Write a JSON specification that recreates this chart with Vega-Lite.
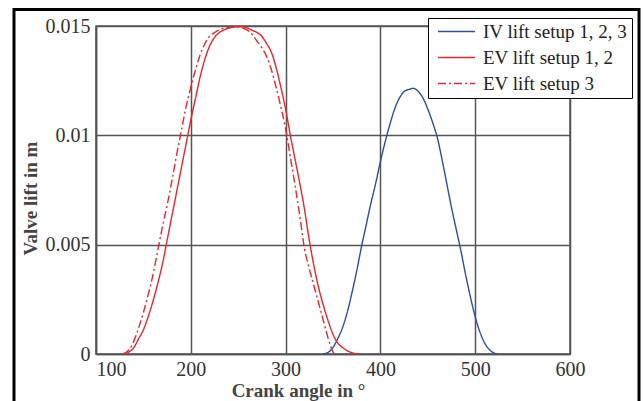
{
  "$schema": "https://vega.github.io/schema/vega-lite/v6.json",
  "width": 474,
  "height": 328,
  "autosize": {"type": "none"},
  "padding": {"left": 96, "top": 26, "right": 73, "bottom": 47},
  "background": "white",
  "config": {
    "view": {"stroke": "#555555", "strokeWidth": 1.5},
    "font": "Liberation Serif"
  },
  "datasets": {
    "frame": [{"item": "frame"}],
    "curves": [
      {"angle": 340, "lift": 0, "series": "IV lift setup 1, 2, 3"},
      {"angle": 345, "lift": 0.00008, "series": "IV lift setup 1, 2, 3"},
      {"angle": 350, "lift": 0.0003, "series": "IV lift setup 1, 2, 3"},
      {"angle": 355, "lift": 0.0007, "series": "IV lift setup 1, 2, 3"},
      {"angle": 360, "lift": 0.0012, "series": "IV lift setup 1, 2, 3"},
      {"angle": 365, "lift": 0.0019, "series": "IV lift setup 1, 2, 3"},
      {"angle": 370, "lift": 0.0028, "series": "IV lift setup 1, 2, 3"},
      {"angle": 375, "lift": 0.0038, "series": "IV lift setup 1, 2, 3"},
      {"angle": 380, "lift": 0.0049, "series": "IV lift setup 1, 2, 3"},
      {"angle": 385, "lift": 0.0059, "series": "IV lift setup 1, 2, 3"},
      {"angle": 390, "lift": 0.0069, "series": "IV lift setup 1, 2, 3"},
      {"angle": 395, "lift": 0.0078, "series": "IV lift setup 1, 2, 3"},
      {"angle": 400, "lift": 0.0088, "series": "IV lift setup 1, 2, 3"},
      {"angle": 405, "lift": 0.0097, "series": "IV lift setup 1, 2, 3"},
      {"angle": 410, "lift": 0.0105, "series": "IV lift setup 1, 2, 3"},
      {"angle": 415, "lift": 0.0112, "series": "IV lift setup 1, 2, 3"},
      {"angle": 420, "lift": 0.0117, "series": "IV lift setup 1, 2, 3"},
      {"angle": 425, "lift": 0.012, "series": "IV lift setup 1, 2, 3"},
      {"angle": 430, "lift": 0.0121, "series": "IV lift setup 1, 2, 3"},
      {"angle": 435, "lift": 0.01215, "series": "IV lift setup 1, 2, 3"},
      {"angle": 440, "lift": 0.012, "series": "IV lift setup 1, 2, 3"},
      {"angle": 445, "lift": 0.0117, "series": "IV lift setup 1, 2, 3"},
      {"angle": 450, "lift": 0.0112, "series": "IV lift setup 1, 2, 3"},
      {"angle": 455, "lift": 0.0106, "series": "IV lift setup 1, 2, 3"},
      {"angle": 460, "lift": 0.0099, "series": "IV lift setup 1, 2, 3"},
      {"angle": 465, "lift": 0.0089, "series": "IV lift setup 1, 2, 3"},
      {"angle": 470, "lift": 0.0078, "series": "IV lift setup 1, 2, 3"},
      {"angle": 475, "lift": 0.0067, "series": "IV lift setup 1, 2, 3"},
      {"angle": 480, "lift": 0.0057, "series": "IV lift setup 1, 2, 3"},
      {"angle": 485, "lift": 0.0047, "series": "IV lift setup 1, 2, 3"},
      {"angle": 490, "lift": 0.0036, "series": "IV lift setup 1, 2, 3"},
      {"angle": 495, "lift": 0.0026, "series": "IV lift setup 1, 2, 3"},
      {"angle": 500, "lift": 0.0017, "series": "IV lift setup 1, 2, 3"},
      {"angle": 505, "lift": 0.001, "series": "IV lift setup 1, 2, 3"},
      {"angle": 510, "lift": 0.0005, "series": "IV lift setup 1, 2, 3"},
      {"angle": 515, "lift": 0.0002, "series": "IV lift setup 1, 2, 3"},
      {"angle": 520, "lift": 0.00004, "series": "IV lift setup 1, 2, 3"},
      {"angle": 524, "lift": 0, "series": "IV lift setup 1, 2, 3"},

      {"angle": 130, "lift": 0, "series": "EV lift setup 1, 2"},
      {"angle": 135, "lift": 0.0001, "series": "EV lift setup 1, 2"},
      {"angle": 140, "lift": 0.0003, "series": "EV lift setup 1, 2"},
      {"angle": 145, "lift": 0.0007, "series": "EV lift setup 1, 2"},
      {"angle": 150, "lift": 0.0011, "series": "EV lift setup 1, 2"},
      {"angle": 155, "lift": 0.0017, "series": "EV lift setup 1, 2"},
      {"angle": 160, "lift": 0.0024, "series": "EV lift setup 1, 2"},
      {"angle": 165, "lift": 0.0032, "series": "EV lift setup 1, 2"},
      {"angle": 170, "lift": 0.0041, "series": "EV lift setup 1, 2"},
      {"angle": 175, "lift": 0.0052, "series": "EV lift setup 1, 2"},
      {"angle": 180, "lift": 0.0063, "series": "EV lift setup 1, 2"},
      {"angle": 185, "lift": 0.0074, "series": "EV lift setup 1, 2"},
      {"angle": 190, "lift": 0.0085, "series": "EV lift setup 1, 2"},
      {"angle": 195, "lift": 0.0096, "series": "EV lift setup 1, 2"},
      {"angle": 200, "lift": 0.0107, "series": "EV lift setup 1, 2"},
      {"angle": 205, "lift": 0.0117, "series": "EV lift setup 1, 2"},
      {"angle": 210, "lift": 0.0127, "series": "EV lift setup 1, 2"},
      {"angle": 215, "lift": 0.0135, "series": "EV lift setup 1, 2"},
      {"angle": 220, "lift": 0.0141, "series": "EV lift setup 1, 2"},
      {"angle": 225, "lift": 0.01448, "series": "EV lift setup 1, 2"},
      {"angle": 230, "lift": 0.0147, "series": "EV lift setup 1, 2"},
      {"angle": 235, "lift": 0.01482, "series": "EV lift setup 1, 2"},
      {"angle": 240, "lift": 0.0149, "series": "EV lift setup 1, 2"},
      {"angle": 245, "lift": 0.01495, "series": "EV lift setup 1, 2"},
      {"angle": 250, "lift": 0.01497, "series": "EV lift setup 1, 2"},
      {"angle": 255, "lift": 0.01496, "series": "EV lift setup 1, 2"},
      {"angle": 260, "lift": 0.0149, "series": "EV lift setup 1, 2"},
      {"angle": 265, "lift": 0.0148, "series": "EV lift setup 1, 2"},
      {"angle": 270, "lift": 0.0147, "series": "EV lift setup 1, 2"},
      {"angle": 275, "lift": 0.01452, "series": "EV lift setup 1, 2"},
      {"angle": 280, "lift": 0.0142, "series": "EV lift setup 1, 2"},
      {"angle": 285, "lift": 0.0138, "series": "EV lift setup 1, 2"},
      {"angle": 290, "lift": 0.0131, "series": "EV lift setup 1, 2"},
      {"angle": 295, "lift": 0.0122, "series": "EV lift setup 1, 2"},
      {"angle": 300, "lift": 0.0112, "series": "EV lift setup 1, 2"},
      {"angle": 305, "lift": 0.01, "series": "EV lift setup 1, 2"},
      {"angle": 310, "lift": 0.0089, "series": "EV lift setup 1, 2"},
      {"angle": 315, "lift": 0.0078, "series": "EV lift setup 1, 2"},
      {"angle": 320, "lift": 0.0066, "series": "EV lift setup 1, 2"},
      {"angle": 325, "lift": 0.0052, "series": "EV lift setup 1, 2"},
      {"angle": 330, "lift": 0.004, "series": "EV lift setup 1, 2"},
      {"angle": 335, "lift": 0.003, "series": "EV lift setup 1, 2"},
      {"angle": 340, "lift": 0.0022, "series": "EV lift setup 1, 2"},
      {"angle": 345, "lift": 0.0015, "series": "EV lift setup 1, 2"},
      {"angle": 350, "lift": 0.0009, "series": "EV lift setup 1, 2"},
      {"angle": 355, "lift": 0.0005, "series": "EV lift setup 1, 2"},
      {"angle": 360, "lift": 0.0003, "series": "EV lift setup 1, 2"},
      {"angle": 365, "lift": 0.00015, "series": "EV lift setup 1, 2"},
      {"angle": 370, "lift": 0.00006, "series": "EV lift setup 1, 2"},
      {"angle": 378, "lift": 0, "series": "EV lift setup 1, 2"},

      {"angle": 128, "lift": 0, "series": "EV lift setup 3"},
      {"angle": 135, "lift": 0.0002, "series": "EV lift setup 3"},
      {"angle": 140, "lift": 0.0006, "series": "EV lift setup 3"},
      {"angle": 145, "lift": 0.0012, "series": "EV lift setup 3"},
      {"angle": 150, "lift": 0.0019, "series": "EV lift setup 3"},
      {"angle": 155, "lift": 0.0027, "series": "EV lift setup 3"},
      {"angle": 160, "lift": 0.0036, "series": "EV lift setup 3"},
      {"angle": 165, "lift": 0.0047, "series": "EV lift setup 3"},
      {"angle": 170, "lift": 0.0058, "series": "EV lift setup 3"},
      {"angle": 175, "lift": 0.0068, "series": "EV lift setup 3"},
      {"angle": 180, "lift": 0.0079, "series": "EV lift setup 3"},
      {"angle": 185, "lift": 0.0091, "series": "EV lift setup 3"},
      {"angle": 190, "lift": 0.0102, "series": "EV lift setup 3"},
      {"angle": 195, "lift": 0.0113, "series": "EV lift setup 3"},
      {"angle": 200, "lift": 0.0122, "series": "EV lift setup 3"},
      {"angle": 205, "lift": 0.013, "series": "EV lift setup 3"},
      {"angle": 210, "lift": 0.0137, "series": "EV lift setup 3"},
      {"angle": 215, "lift": 0.0142, "series": "EV lift setup 3"},
      {"angle": 220, "lift": 0.01455, "series": "EV lift setup 3"},
      {"angle": 225, "lift": 0.0147, "series": "EV lift setup 3"},
      {"angle": 230, "lift": 0.01482, "series": "EV lift setup 3"},
      {"angle": 235, "lift": 0.0149, "series": "EV lift setup 3"},
      {"angle": 240, "lift": 0.01494, "series": "EV lift setup 3"},
      {"angle": 248, "lift": 0.01497, "series": "EV lift setup 3"},
      {"angle": 255, "lift": 0.0149, "series": "EV lift setup 3"},
      {"angle": 260, "lift": 0.0148, "series": "EV lift setup 3"},
      {"angle": 265, "lift": 0.0146, "series": "EV lift setup 3"},
      {"angle": 270, "lift": 0.0143, "series": "EV lift setup 3"},
      {"angle": 275, "lift": 0.014, "series": "EV lift setup 3"},
      {"angle": 280, "lift": 0.0136, "series": "EV lift setup 3"},
      {"angle": 285, "lift": 0.013, "series": "EV lift setup 3"},
      {"angle": 290, "lift": 0.0122, "series": "EV lift setup 3"},
      {"angle": 295, "lift": 0.0113, "series": "EV lift setup 3"},
      {"angle": 300, "lift": 0.0103, "series": "EV lift setup 3"},
      {"angle": 305, "lift": 0.009, "series": "EV lift setup 3"},
      {"angle": 310, "lift": 0.0077, "series": "EV lift setup 3"},
      {"angle": 315, "lift": 0.0063, "series": "EV lift setup 3"},
      {"angle": 320, "lift": 0.0048, "series": "EV lift setup 3"},
      {"angle": 325, "lift": 0.0039, "series": "EV lift setup 3"},
      {"angle": 330, "lift": 0.0031, "series": "EV lift setup 3"},
      {"angle": 335, "lift": 0.0023, "series": "EV lift setup 3"},
      {"angle": 340, "lift": 0.0015, "series": "EV lift setup 3"},
      {"angle": 345, "lift": 0.0007, "series": "EV lift setup 3"},
      {"angle": 348, "lift": 0.0003, "series": "EV lift setup 3"},
      {"angle": 351, "lift": 0, "series": "EV lift setup 3"}
    ]
  },
  "layer": [
    {
      "data": {"name": "curves"},
      "mark": {"type": "line", "strokeWidth": 1.4, "interpolate": "monotone", "clip": true},
      "encoding": {
        "x": {
          "field": "angle",
          "type": "quantitative",
          "scale": {"domain": [100, 600], "nice": false, "zero": false},
          "axis": {
            "values": [100, 200, 300, 400, 500, 600],
            "grid": true,
            "gridColor": "#555555",
            "gridWidth": 1.5,
            "gridOpacity": 1,
            "domainColor": "#555555",
            "domainWidth": 1.5,
            "ticks": false,
            "labelFont": "Liberation Serif",
            "labelFontSize": 20,
            "labelColor": "#333333",
            "labelPadding": 5,
            "labelFlush": false,
            "labelOverlap": false,
            "labelAlign": {"condition": {"test": "datum.value == 100", "value": "left"}, "value": "center"},
            "title": "Crank angle in °",
            "titleFont": "Liberation Serif",
            "titleFontWeight": "bold",
            "titleFontSize": 19,
            "titleColor": "#444444",
            "titleX": 202,
            "titleY": 42,
            "titleBaseline": "alphabetic"
          }
        },
        "y": {
          "field": "lift",
          "type": "quantitative",
          "scale": {"domain": [0, 0.015], "nice": false},
          "axis": {
            "values": [0, 0.005, 0.01, 0.015],
            "format": "~g",
            "grid": true,
            "gridColor": "#555555",
            "gridWidth": 1.5,
            "gridOpacity": 1,
            "domainColor": "#555555",
            "domainWidth": 1.5,
            "ticks": false,
            "labelFont": "Liberation Serif",
            "labelFontSize": 20,
            "labelColor": "#333333",
            "labelPadding": 6,
            "labelOverlap": false,
            "title": "Valve lift in m",
            "titleFont": "Liberation Serif",
            "titleFontWeight": "bold",
            "titleFontSize": 19,
            "titleColor": "#444444",
            "titleX": -66,
            "titleY": 172,
            "titleBaseline": "middle",
            "titleAlign": "center"
          }
        },
        "color": {
          "field": "series",
          "type": "nominal",
          "title": null,
          "scale": {
            "domain": ["IV lift setup 1, 2, 3", "EV lift setup 1, 2", "EV lift setup 3"],
            "range": ["#2b4ea2", "#e8262b", "#e8262b"]
          },
          "legend": {
            "orient": "none",
            "legendX": 332,
            "legendY": -8,
            "strokeColor": "black",
            "fillColor": "white",
            "padding": 4,
            "symbolType": "M-0.47,0H4.47",
            "symbolSize": 225,
            "symbolStrokeWidth": 1.5,
            "labelFont": "Liberation Serif",
            "labelFontSize": 19,
            "labelColor": "#222222",
            "labelOffset": 32,
            "labelLimit": 300,
            "rowPadding": 6
          }
        },
        "strokeDash": {
          "field": "series",
          "type": "nominal",
          "title": null,
          "scale": {
            "domain": ["IV lift setup 1, 2, 3", "EV lift setup 1, 2", "EV lift setup 3"],
            "range": [[1, 0], [1, 0], [8, 3, 2, 3]]
          }
        }
      }
    },
    {
      "data": {"name": "frame"},
      "mark": {"type": "rect", "filled": false, "stroke": "black", "strokeWidth": 3, "clip": false},
      "encoding": {
        "x": {"datum": 13.5, "type": "quantitative"},
        "x2": {"datum": 672.8},
        "y": {"datum": 0.01576, "type": "quantitative"},
        "y2": {"datum": -0.004}
      }
    }
  ]
}
